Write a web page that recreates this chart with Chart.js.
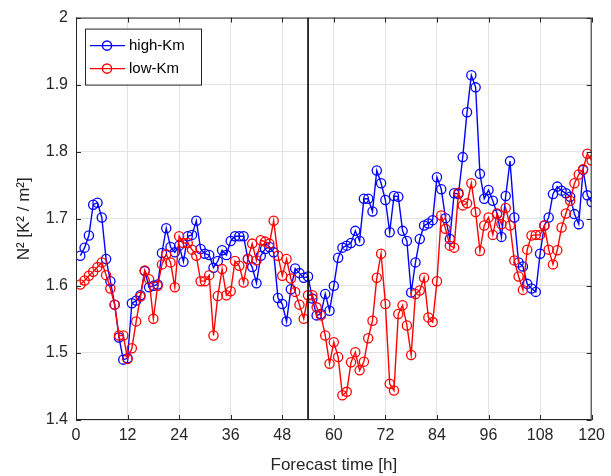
<!DOCTYPE html>
<html>
<head>
<meta charset="utf-8">
<script src="https://cdn.jsdelivr.net/npm/chart.js@4.4.0/dist/chart.umd.min.js"></script>
<style>
body {margin: 0; background: #fff;}
#wrap {width: 611px; height: 476px;}
</style>
</head>
<body>
<div id="wrap"><canvas id="n2_chart" width="611" height="476"></canvas></div>
<script>
// forecast hours (x) and the two N^2 series
var hours = [1,2,3,4,5,6,7,8,9,10,11,12,13,14,15,16,17,18,19,20,
  21,22,23,24,25,26,27,28,29,30,31,32,33,34,35,36,37,38,39,40,
  41,42,43,44,45,46,47,48,49,50,51,52,53,54,55,56,57,58,59,60,
  61,62,63,64,65,66,67,68,69,70,71,72,73,74,75,76,77,78,79,80,
  81,82,83,84,85,86,87,88,89,90,91,92,93,94,95,96,97,98,99,100,
  101,102,103,104,105,106,107,108,109,110,111,112,113,114,115,116,117,118,119,120]

var highKm = [1.645,1.657,1.675,1.721,1.724,1.702,1.640,1.607,1.572,1.523,
  1.490,1.492,1.574,1.578,1.586,1.622,1.598,1.600,1.602,1.649,
  1.686,1.658,1.650,1.660,1.636,1.674,1.676,1.697,1.655,1.648,
  1.646,1.627,1.637,1.653,1.646,1.667,1.674,1.674,1.674,1.640,
  1.628,1.604,1.645,1.655,1.658,1.650,1.582,1.573,1.547,1.595,
  1.626,1.619,1.612,1.614,1.581,1.556,1.558,1.588,1.563,1.600,
  1.642,1.657,1.660,1.664,1.682,1.667,1.730,1.730,1.711,1.772,
  1.753,1.728,1.680,1.734,1.733,1.682,1.667,1.590,1.635,1.670,
  1.690,1.693,1.698,1.762,1.744,1.701,1.670,1.738,1.737,1.792,
  1.859,1.914,1.896,1.767,1.730,1.743,1.727,1.707,1.673,1.734,
  1.786,1.702,1.635,1.629,1.603,1.596,1.591,1.648,1.690,1.702,
  1.737,1.748,1.742,1.738,1.733,1.707,1.692,1.773,1.735,1.725]

var lowKm = [1.602,1.608,1.615,1.621,1.628,1.635,1.616,1.596,1.572,1.526,
  1.526,1.491,1.507,1.547,1.584,1.623,1.610,1.551,1.600,1.632,
  1.647,1.635,1.598,1.674,1.664,1.664,1.654,1.645,1.607,1.607,
  1.616,1.526,1.585,1.625,1.586,1.592,1.637,1.630,1.605,1.640,
  1.663,1.638,1.668,1.666,1.663,1.697,1.645,1.615,1.640,1.611,
  1.591,1.572,1.551,1.586,1.586,1.568,1.556,1.526,1.484,1.516,
  1.494,1.437,1.442,1.486,1.501,1.474,1.487,1.522,1.548,1.612,
  1.648,1.573,1.454,1.444,1.558,1.571,1.541,1.497,1.588,1.593,
  1.612,1.553,1.546,1.607,1.705,1.685,1.660,1.657,1.739,1.720,
  1.723,1.753,1.710,1.652,1.690,1.702,1.676,1.708,1.692,1.716,
  1.690,1.638,1.614,1.594,1.654,1.675,1.676,1.676,1.690,1.654,
  1.632,1.653,1.687,1.708,1.727,1.753,1.766,1.774,1.797,1.787]

var splitHour = 54
var xTicks = [0,12,24,36,48,60,72,84,96,108,120]
var yTicks = [1.4,1.5,1.6,1.7,1.8,1.9,2]

var FONT = "'Liberation Sans', Arial, sans-serif"

function pts(vals) {
    var out = []
    for (var i = 0; i < hours.length; i++) {
        out.push({x: hours[i], y: vals[i]})
    }
    return out
}

function series(label, color, vals, order) {
    return {label: label, data: pts(vals), borderColor: color, backgroundColor: 'rgba(0,0,0,0)',
        borderWidth: 1.4, pointRadius: 4.6, pointBorderWidth: 1.3, pointBorderColor: color,
        pointBackgroundColor: 'rgba(0,0,0,0)', tension: 0, order: order}
}

// box around the plot, inward ticks, and a MATLAB style legend inside the axes
var boxPlugin = {
    id: 'box',
    afterDraw: function (chart) {
        var ctx = chart.ctx
        var a = chart.chartArea
        var xs = chart.scales.x, ys = chart.scales.y
        ctx.save()
        ctx.strokeStyle = '#262626'
        ctx.lineWidth = 1
        ctx.strokeRect(a.left + 0.5, a.top + 0.5, a.right - a.left - 1, a.bottom - a.top - 1)
        ctx.beginPath()
        xTicks.forEach(function (t) {
            var px = Math.round(xs.getPixelForValue(t)) + 0.5
            ctx.moveTo(px, a.bottom); ctx.lineTo(px, a.bottom - 5)
            ctx.moveTo(px, a.top); ctx.lineTo(px, a.top + 5)
        })
        yTicks.forEach(function (t) {
            var py = Math.round(ys.getPixelForValue(t)) + 0.5
            ctx.moveTo(a.left, py); ctx.lineTo(a.left + 5, py)
            ctx.moveTo(a.right, py); ctx.lineTo(a.right - 5, py)
        })
        ctx.stroke()

        // legend
        var lx = a.left + 9, ly = a.top + 11, lw = 116, lh = 56
        ctx.fillStyle = '#fff'
        ctx.fillRect(lx, ly, lw, lh)
        ctx.strokeStyle = '#262626'
        ctx.strokeRect(lx + 0.5, ly + 0.5, lw, lh)
        var items = [chart.data.datasets[1], chart.data.datasets[0]]
        items.forEach(function (ds, i) {
            var cy = ly + 17 + i * 23
            ctx.strokeStyle = ds.borderColor
            ctx.lineWidth = 1.4
            ctx.beginPath()
            ctx.moveTo(lx + 5, cy); ctx.lineTo(lx + 40, cy)
            ctx.stroke()
            ctx.beginPath()
            ctx.arc(lx + 22, cy, 4.6, 0, Math.PI * 2)
            ctx.stroke()
            ctx.fillStyle = '#000'
            ctx.font = '15px ' + FONT
            ctx.textBaseline = 'middle'
            ctx.fillText(ds.label, lx + 44, cy)
        })
        ctx.restore()
    }
}

var ctx = document.getElementById('n2_chart')
var data = {
    datasets: [
        series('low-Km', '#ff0000', lowKm, 1),
        series('high-Km', '#0000ff', highKm, 2),
        {label: 'split', data: [{x: splitHour, y: yTicks[0]}, {x: splitHour, y: yTicks[yTicks.length - 1]}],
         borderColor: '#000', borderWidth: 1.6, pointRadius: 0, order: 0}
    ]
}

const config = {type: 'line',
    data,
    options: {
        responsive: false,
        animation: false,
        layout: {padding: {top: 14, right: 14, bottom: 0, left: 0}},
        plugins: {legend: {display: false}, tooltip: {enabled: false}},
        scales: {
            x: {
                type: 'linear', min: 0, max: 120,
                afterBuildTicks: function (s) { s.ticks = xTicks.map(function (v) { return {value: v} }) },
                afterFit: function (s) { s.height = 56 },
                grid: {color: '#e3e3e3', drawTicks: false},
                border: {display: false},
                ticks: {color: '#262626', font: {family: FONT, size: 16}, padding: 6, maxRotation: 0, autoSkip: false},
                title: {display: true, text: 'Forecast time [h]', color: '#262626',
                        font: {family: FONT, size: 17}, padding: {top: 0, bottom: 0}}
            },
            y: {
                type: 'linear', min: 1.4, max: 2,
                afterBuildTicks: function (s) { s.ticks = yTicks.map(function (v) { return {value: v} }) },
                afterFit: function (s) { s.width = 76 },
                grid: {color: '#e3e3e3', drawTicks: false},
                border: {display: false},
                ticks: {color: '#262626', font: {family: FONT, size: 16}, padding: 8,
                        callback: function (v) { return String(Math.round(v * 10) / 10) }},
                title: {display: true, text: 'N\u00b2 [K\u00b2 / m\u00b2]', color: '#262626',
                        font: {family: FONT, size: 17}, padding: {top: 14, bottom: 0}}
            }
        }
    },
    plugins: [boxPlugin]
}

var myChart = new Chart(ctx, config)
</script>
</body>
</html>
